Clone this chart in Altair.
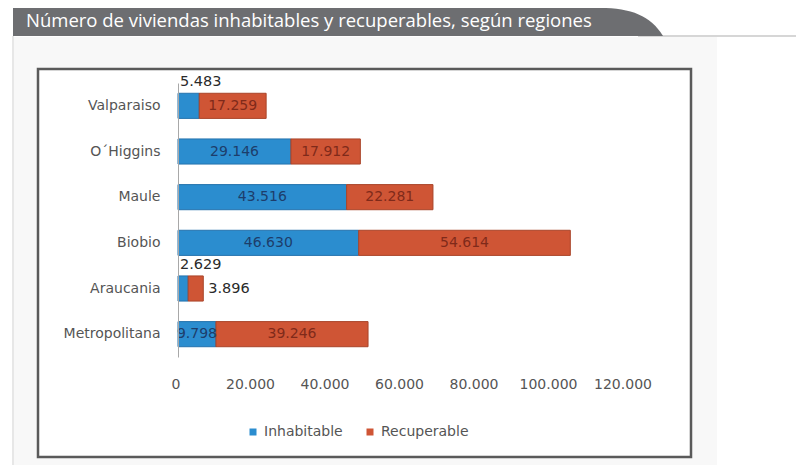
import altair as alt
import pandas as pd

title_text = "Número de viviendas inhabitables y recuperables, según regiones"
regions = ["Valparaiso", "O´Higgins", "Maule", "Biobio", "Araucania", "Metropolitana"]
inhabitable = [5483, 29146, 43516, 46630, 2629, 9798]
recuperable = [17259, 17912, 22281, 54614, 3896, 39246]
series = ["Inhabitable", "Recuperable"]
tick_values = [0, 20000, 40000, 60000, 80000, 100000, 120000]
tick_labels = ["0", "20.000", "40.000", "60.000", "80.000", "100.000", "120.000"]

BLUE = "#2B8DCF"
RED = "#CF5535"
BLUE_EDGE = "#2573AD"
RED_EDGE = "#A9452A"
FONT = "DejaVu Sans"

rows = []
for r, a, b in zip(regions, inhabitable, recuperable):
    rows.append(dict(region=r, serie="Inhabitable", value=a, start=0, end=a))
    rows.append(dict(region=r, serie="Recuperable", value=b, start=a, end=a + b))
df = pd.DataFrame(rows)
df["mid"] = (df["start"] + df["end"]) / 2
df["label"] = df["value"].map(lambda v: f"{v:,}".replace(",", "."))
SMALL = 6000
df["place"] = "inside"
df.loc[(df["value"] < SMALL) & (df["serie"] == "Inhabitable"), "place"] = "above"
df.loc[(df["value"] < SMALL) & (df["serie"] == "Recuperable"), "place"] = "right"

ticks_df = pd.DataFrame({"tick": tick_values, "label": tick_labels})
one = pd.DataFrame({"k": [0]})

W, H = 465, 274
XMAX = 120000

y_enc = alt.Y(
    "region:N",
    sort=regions,
    scale=alt.Scale(paddingInner=0.45, paddingOuter=0.225),
    axis=alt.Axis(
        title=None, ticks=False, domain=True, domainColor="#a8a8a8", domainWidth=1,
        labelFont=FONT, labelFontSize=14, labelColor="#555555", labelPadding=18,
        zindex=1,
    ),
)
x_scale = alt.Scale(domain=[0, XMAX])

# decorations (page layout)
bg = alt.Chart(one).mark_rect(fill="#f8f8f8").encode(
    x=alt.value(-164), x2=alt.value(539), y=alt.value(-46), y2=alt.value(400))
left_line = alt.Chart(one).mark_rule(color="#cfcfcf", strokeWidth=1).encode(
    x=alt.value(-165), y=alt.value(-47), y2=alt.value(400))
top_line = alt.Chart(one).mark_rule(color="#c8c8c8", strokeWidth=1.5).encode(
    x=alt.value(460), x2=alt.value(620), y=alt.value(-47))
banner = alt.Chart(one).mark_rect(fill="#6d6e71").encode(
    x=alt.value(-165), x2=alt.value(424), y=alt.value(-75), y2=alt.value(-47))
corner = alt.Chart(one).mark_point(
    shape="M -1 0.444 L -1 -0.444 C 0.0 -0.444 0.6 -0.2 1 0.444 Z",
    filled=True, fill="#6d6e71", opacity=1, strokeWidth=0, size=3969,
).encode(x=alt.value(453.5), y=alt.value(-61))
title = alt.Chart(one).mark_text(
    align="left", baseline="alphabetic", font="Open Sans", fontSize=18.5, color="white"
).encode(x=alt.value(-152), y=alt.value(-56), text=alt.value(title_text))
box = alt.Chart(one).mark_rect(fill="white", stroke="#5a5a5a", strokeWidth=2.5).encode(
    x=alt.value(-140), x2=alt.value(513), y=alt.value(-14), y2=alt.value(374))

bars = alt.Chart(df).mark_bar(strokeWidth=1).encode(
    x=alt.X("start:Q", scale=x_scale, axis=None),
    x2="end:Q",
    y=y_enc,
    color=alt.Color(
        "serie:N",
        scale=alt.Scale(domain=series, range=[BLUE, RED]),
        legend=alt.Legend(
            title=None, orient="none", legendX=68, legendY=342, direction="horizontal",
            symbolType="square", symbolSize=49, symbolStrokeWidth=0,
            labelFont=FONT, labelFontSize=14, labelColor="#555555",
            labelOffset=4, columnPadding=20, padding=0, zindex=1,
        ),
    ),
    stroke=alt.Stroke("serie:N", scale=alt.Scale(domain=series, range=[BLUE_EDGE, RED_EDGE]), legend=None),
)

base_txt = alt.Chart(df)
lab_in_blue = base_txt.transform_filter(
    "datum.place == 'inside' && datum.serie == 'Inhabitable'"
).mark_text(font=FONT, fontSize=14, color="#1d3d6b", baseline="middle").encode(
    x=alt.X("mid:Q", scale=x_scale, axis=None), y=y_enc, text="label:N")
lab_in_red = base_txt.transform_filter(
    "datum.place == 'inside' && datum.serie == 'Recuperable'"
).mark_text(font=FONT, fontSize=14, color="#7f2a1a", baseline="middle").encode(
    x=alt.X("mid:Q", scale=x_scale, axis=None), y=y_enc, text="label:N")
lab_above = base_txt.transform_filter("datum.place == 'above'").mark_text(
    font=FONT, fontSize=14.5, color="#2a2a2a", baseline="middle", align="left", dx=2, dy=-24
).encode(x=alt.X("start:Q", scale=x_scale, axis=None), y=y_enc, text="label:N")
lab_right = base_txt.transform_filter("datum.place == 'right'").mark_text(
    font=FONT, fontSize=14.5, color="#2a2a2a", baseline="middle", align="left", dx=5
).encode(x=alt.X("end:Q", scale=x_scale, axis=None), y=y_enc, text="label:N")

xticks = alt.Chart(ticks_df).mark_text(
    font=FONT, fontSize=14, color="#555555", baseline="middle"
).encode(
    x=alt.X("tick:Q", scale=alt.Scale(domain=[0, XMAX], range=[-2, 445]), axis=None),
    y=alt.value(302),
    text="label:N",
)

chart = alt.layer(
    bg, left_line, top_line, banner, corner, title, box,
    bars, lab_in_blue, lab_in_red, lab_above, lab_right, xticks,
).resolve_scale(x="independent").properties(
    width=W, height=H,
    padding={"left": 170, "top": 75, "right": 153, "bottom": 108},
    autosize=alt.AutoSizeParams(type="none"),
    background="white",
).configure_view(stroke=None)

chart.save("out.html", embed_options={"renderer": "svg", "actions": False})
